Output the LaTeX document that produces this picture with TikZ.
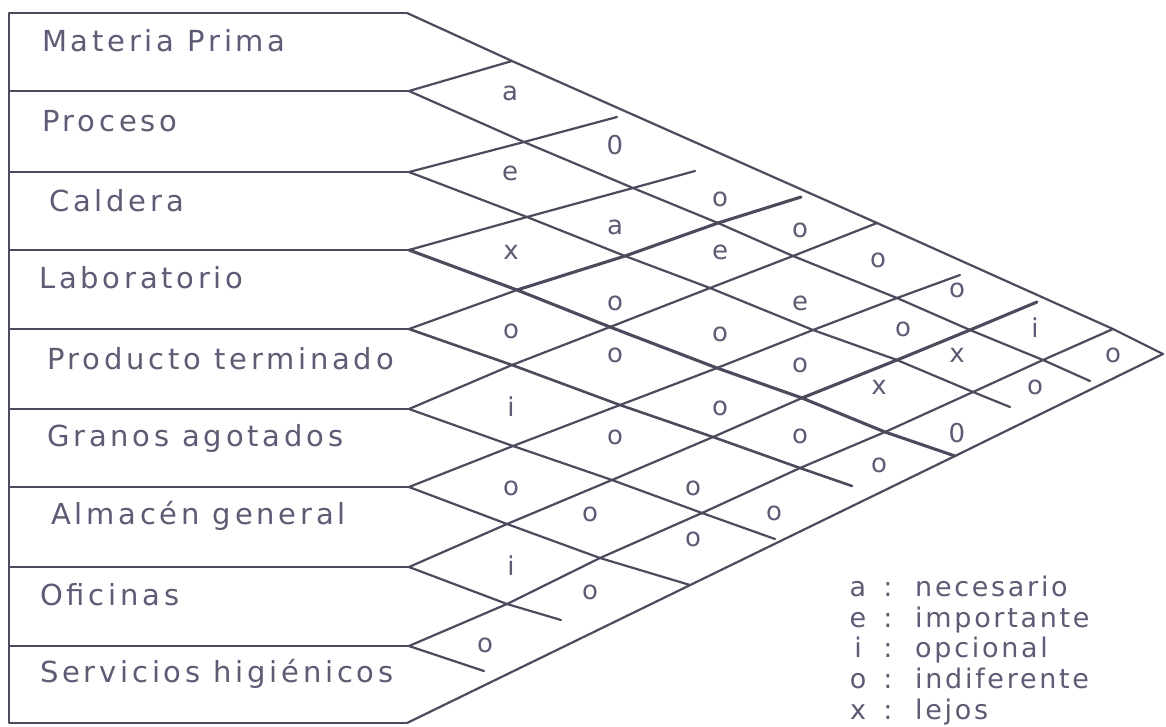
\documentclass[tikz,border=0pt]{standalone}
\usepackage{fontspec}
\setmainfont{DejaVu Sans}
\newfontfamily\labfont[LetterSpace=13]{DejaVu Sans}
\newfontfamily\legfont[LetterSpace=10]{DejaVu Sans}
\definecolor{ink}{RGB}{78,74,94}
\definecolor{txt}{RGB}{96,90,116}
\tikzset{
  grid/.style={draw=ink, line width=2.2pt},
  heavy/.style={draw=ink, line width=3.1pt},
  medium/.style={draw=ink, line width=2.6pt},
  lab/.style={anchor=base west, text=txt, inner sep=0pt, font=\labfont\fontsize{29}{31}\selectfont},
  cell/.style={text=txt, inner sep=0pt, font=\fontsize{26}{28}\selectfont},
  bigcell/.style={text=txt, inner sep=0pt, font=\fontsize{26}{28}\selectfont},
  legkey/.style={anchor=base, text=txt, inner sep=0pt, font=\legfont\fontsize{27}{29}\selectfont},
  leg/.style={anchor=base west, text=txt, inner sep=0pt, font=\legfont\fontsize{27}{29}\selectfont}
}
\begin{document}
\begin{tikzpicture}[x=1pt,y=-1pt,line join=round,line cap=round]
\useasboundingbox (0,0) rectangle (1166,726);
\fill[white] (0,0) rectangle (1166,726);
% frame
\coordinate (tl) at (9,13);
\coordinate (bl) at (9,723);
\coordinate (q00) at (407,13);
\coordinate (q99) at (407,723);
\coordinate (apex) at (1163,354);
\foreach \n/\y in {1/91,2/172,3/250,4/329,5/409,6/487,7/567,8/646}{
  \coordinate (l\n) at (9,\y);
  \coordinate (q\n\n) at (409,\y);
}
% top edge points
\coordinate (q01) at (512,61);
\coordinate (q05) at (877,223);
\coordinate (q08) at (1113,329);
% lattice points
\coordinate (q12) at (524,142); \coordinate (q13) at (633,188); \coordinate (q14) at (718,223);
\coordinate (q15) at (793,256); \coordinate (q16) at (897,298); \coordinate (q17) at (970,330);
\coordinate (q18) at (1043,360); \coordinate (e1) at (1090,381);
\coordinate (q23) at (527,217); \coordinate (q24) at (625,256); \coordinate (q25) at (710,288);
\coordinate (q26) at (813,330); \coordinate (q27) at (897,360); \coordinate (q28) at (973,392);
\coordinate (e2) at (1010,407);
\coordinate (q34) at (517,290); \coordinate (q35) at (610,327); \coordinate (q36) at (717,368);
\coordinate (q37) at (802,398); \coordinate (q38) at (885,432); \coordinate (q39) at (955,456);
\coordinate (q45) at (512,365); \coordinate (q46) at (620,405); \coordinate (q47) at (713,437);
\coordinate (q48) at (800,468); \coordinate (e4) at (852,486);
\coordinate (q56) at (513,446); \coordinate (q57) at (612,480); \coordinate (q58) at (702,513);
\coordinate (e5) at (775,539);
\coordinate (q67) at (507,524); \coordinate (q68) at (600,558); \coordinate (e6) at (690,585);
\coordinate (q78) at (507,604); \coordinate (e7) at (561,620);
\coordinate (e8) at (484,671);
% up-line free ends
\coordinate (u2) at (617,117); \coordinate (u3) at (695,171); \coordinate (u4) at (801,197);
\coordinate (u6) at (960,275); \coordinate (u7) at (1037,302);

% outer frame and row lines
\draw[grid] (q00) -- (tl) -- (bl) -- (q99);
\foreach \n in {1,...,8}{ \draw[grid] (l\n) -- (q\n\n); }
\draw[grid] (q00) -- (q01) -- (q05) -- (q08) -- (apex);
\draw[grid] (q99) -- (q39) -- (apex);

% down-right lines
\draw[grid] (q11) -- (q12) -- (q13) -- (q14) -- (q15) -- (q16) -- (q17) -- (q18) -- (e1);
\draw[grid] (q22) -- (q23) -- (q24) -- (q25) -- (q26) -- (q27) -- (q28) -- (e2);
\draw[heavy] (q33) -- (q34) -- (q35) -- (q36) -- (q37) -- (q38) -- (q39);
\draw[medium] (q44) -- (q45) -- (q46) -- (q47) -- (q48) -- (e4);
\draw[grid] (q55) -- (q56) -- (q57) -- (q58) -- (e5);
\draw[grid] (q66) -- (q67) -- (q68) -- (e6);
\draw[grid] (q77) -- (q78) -- (e7);
\draw[grid] (q88) -- (e8);

% up-right lines
\draw[grid] (q11) -- (q01);
\draw[grid] (q22) -- (q12) -- (u2);
\draw[grid] (q33) -- (q23) -- (q13) -- (u3);
\draw[grid] (q44) -- (q34);
\draw[heavy] (q34) -- (q24) -- (q14) -- (u4);
\draw[grid] (q55) -- (q45) -- (q35) -- (q25) -- (q15) -- (q05);
\draw[grid] (q66) -- (q56) -- (q46) -- (q36) -- (q26) -- (q16) -- (u6);
\draw[grid] (q77) -- (q67) -- (q57) -- (q47) -- (q37);
\draw[heavy] (q37) -- (q27) -- (q17) -- (u7);
\draw[grid] (q88) -- (q78) -- (q68) -- (q58) -- (q48) -- (q38) -- (q28) -- (q18) -- (q08);

% row labels
\node[lab] (r1) at (42,51) {Materia Prima};
\node[lab] (r2) at (42,131) {Proceso};
\node[lab] (r3) at (49,211) {Caldera};
\node[lab] (r4) at (39,288) {Laboratorio};
\node[lab] (r5) at (47,369) {Producto terminado};
\node[lab] (r6) at (47,446) {Granos agotados};
\node[lab] (r7) at (51,524) {Almacén general};
\node[lab] (r8) at (40,605) {Oficinas};
\node[lab] (r9) at (40,682) {Servicios higiénicos};

% relationship cells
\node[cell] (c12) at (510,93) {a};
\node[bigcell] (c13) at (615,145) {0};
\node[cell] (c14) at (720,199) {o};
\node[cell] (c15) at (800,230) {o};
\node[cell] (c16) at (878,260) {o};
\node[cell] (c17) at (957,290) {o};
\node[cell] (c18) at (1035,328) {i};
\node[cell] (c19) at (1113,355) {o};
\node[cell] (c23) at (510,173) {e};
\node[cell] (c24) at (615,227) {a};
\node[cell] (c25) at (720,252) {e};
\node[cell] (c26) at (800,303) {e};
\node[cell] (c27) at (903,329) {o};
\node[cell] (c28) at (957,355) {x};
\node[cell] (c29) at (1035,387) {o};
\node[cell] (c34) at (511,252) {x};
\node[cell] (c35) at (615,303) {o};
\node[cell] (c36) at (720,334) {o};
\node[cell] (c37) at (800,365) {o};
\node[cell] (c38) at (879,387) {x};
\node[bigcell] (c39) at (957,433) {0};
\node[cell] (c45) at (511,331) {o};
\node[cell] (c46) at (615,355) {o};
\node[cell] (c47) at (720,408) {o};
\node[cell] (c48) at (800,436) {o};
\node[cell] (c49) at (879,465) {o};
\node[cell] (c56) at (511,407) {i};
\node[cell] (c57) at (615,437) {o};
\node[cell] (c58) at (693,488) {o};
\node[cell] (c59) at (774,513) {o};
\node[cell] (c67) at (511,488) {o};
\node[cell] (c68) at (590,514) {o};
\node[cell] (c69) at (693,539) {o};
\node[cell] (c78) at (511,566) {i};
\node[cell] (c79) at (590,592) {o};
\node[cell] (c89) at (485,645) {o};

% legend
\foreach \k/\w/\y [count=\i] in {a/necesario/596, e/importante/627, i/opcional/657, o/indiferente/688, x/lejos/719}{
  \node[legkey] (k\i) at (858,\y) {\k};
  \node[legkey] (s\i) at (888,\y) {:};
  \node[leg] (w\i) at (915,\y) {\w};
}
\end{tikzpicture}
\end{document}
